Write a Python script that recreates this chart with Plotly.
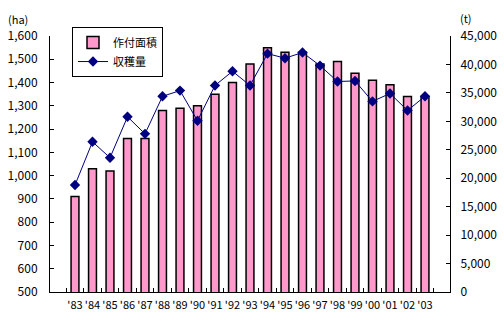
import plotly.graph_objects as go

# Planted area (ha) and harvest (t) by year
years = ["'83", "'84", "'85", "'86", "'87", "'88", "'89", "'90", "'91", "'92", "'93",
         "'94", "'95", "'96", "'97", "'98", "'99", "'00", "'01", "'02", "'03"]
area_ha = [910, 1030, 1020, 1160, 1160, 1280, 1290, 1300, 1350, 1400, 1480,
           1550, 1530, 1530, 1480, 1490, 1440, 1410, 1390, 1340, 1340]
harvest_t = [18800, 26400, 23600, 30800, 27800, 34400, 35400, 30100, 36300, 38800, 36300,
             41900, 41100, 42100, 39800, 37000, 37100, 33500, 34900, 31900, 34400]

left_ticks = list(range(500, 1601, 100))
right_ticks = list(range(0, 45001, 5000))

FONT = "Noto Sans CJK JP, Liberation Sans, sans-serif"

fig = go.Figure()
fig.add_trace(go.Bar(
    x=years, y=area_ha, name="作付面積",
    marker=dict(color="#FF99CC", line=dict(color="#000000", width=1.5)),
    yaxis="y",
))
fig.add_trace(go.Scatter(
    x=years, y=harvest_t, name="収穫量", mode="lines+markers",
    line=dict(color="#000080", width=1),
    marker=dict(symbol="diamond", size=8, color="#000080"),
    yaxis="y2",
))

fig.update_layout(
    width=504, height=324,
    margin=dict(l=50, r=54, t=36, b=32),
    paper_bgcolor="white", plot_bgcolor="white",
    font=dict(family=FONT, size=12, color="#000000"),
    bargap=0.55,
    showlegend=True,
    legend=dict(
        x=0.055, y=1.035, xanchor="left", yanchor="top",
        bordercolor="#000000", borderwidth=1, bgcolor="white",
        font=dict(family=FONT, size=11),
        tracegroupgap=0, itemwidth=30,
    ),
    xaxis=dict(
        type="category", showline=True, linecolor="#000000", linewidth=1,
        ticks="inside", ticklen=4, tickcolor="#000000", tickson="boundaries",
        showgrid=False, tickfont=dict(size=11), tickangle=0, automargin=False,
        ticklabelstandoff=3,
    ),
    yaxis=dict(
        range=[500, 1600], tickvals=left_ticks, tickformat=",",
        showline=True, linecolor="#000000", linewidth=1,
        ticks="inside", ticklen=4, tickcolor="#000000", automargin=False,
        showgrid=False, zeroline=False, ticklabelstandoff=9,
    ),
    yaxis2=dict(
        range=[0, 45000], tickvals=right_ticks, tickformat=",",
        overlaying="y", side="right", automargin=False,
        showline=True, linecolor="#000000", linewidth=1,
        ticks="inside", ticklen=4, tickcolor="#000000",
        showgrid=False, zeroline=False, ticklabelstandoff=7,
    ),
    annotations=[
        dict(text="(ha)", xref="paper", yref="paper", x=-0.08, y=1.065,
             xanchor="center", yanchor="middle", showarrow=False,
             font=dict(size=11)),
        dict(text="(t)", xref="paper", yref="paper", x=1.04, y=1.07,
             xanchor="center", yanchor="middle", showarrow=False,
             font=dict(size=11)),
    ],
)

fig.write_html("out.html")
